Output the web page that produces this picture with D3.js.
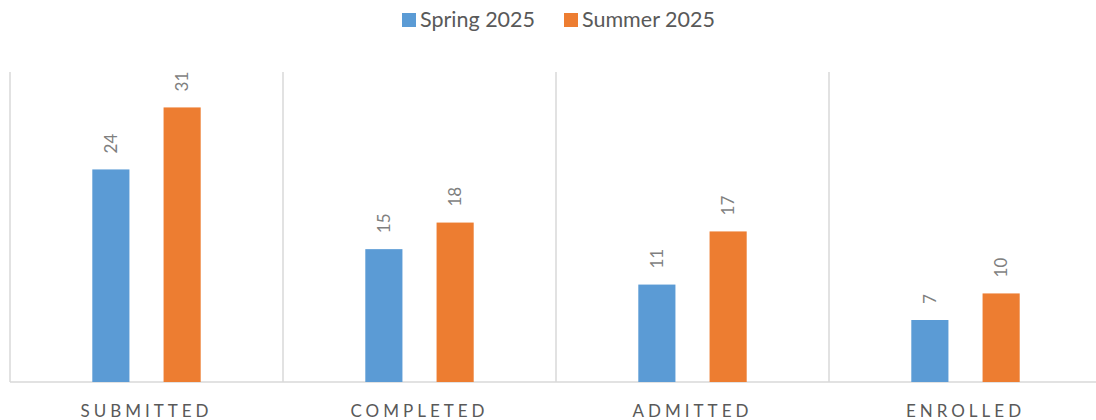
<!DOCTYPE html>
<html>
<head>
<meta charset="utf-8">
<script src="https://cdn.jsdelivr.net/npm/d3@7"></script>
<style>
  body { margin: 0; background: #fff; }
  svg { font-family: Lato, "Open Sans", sans-serif; }
</style>
</head>
<body>
<svg width="1096" height="420"></svg>
<script>
let categories = ["SUBMITTED", "COMPLETED", "ADMITTED", "ENROLLED"];
let seriesNames = ["Spring 2025", "Summer 2025"];
let spring = [24, 15, 11, 7];
let summer = [31, 18, 17, 10];
let colors = ["#5b9bd5", "#ed7d31"];

let svg = d3.select("svg"),
    width = +svg.attr("width"),
    height = +svg.attr("height");

let plotLeft = 10, plotRight = 1102, plotTop = 72, plotBottom = 382;
let rows = categories.map((c, i) => ({ cat: c, values: [spring[i], summer[i]] }));

let x0 = d3.scaleBand().domain(categories).range([plotLeft, plotRight]).padding(0);
let x1 = d3.scaleBand().domain(seriesNames).range([0, x0.bandwidth()])
  .paddingInner(0.479).paddingOuter(1.155);
let y = d3.scaleLinear().domain([0, 35]).range([plotBottom, plotTop]);

// vertical separators between categories
let seps = categories.map(c => x0(c));
svg.append("g").selectAll("line")
  .data(seps)
  .enter().append("line")
  .attr("x1", d => d).attr("x2", d => d)
  .attr("y1", plotTop).attr("y2", plotBottom)
  .attr("stroke", "#d9d9d9").attr("stroke-width", 1.5);

// baseline
svg.append("line")
  .attr("x1", plotLeft).attr("x2", width)
  .attr("y1", plotBottom).attr("y2", plotBottom)
  .attr("stroke", "#d9d9d9").attr("stroke-width", 1.5);

let groups = svg.selectAll(".cat")
  .data(rows)
  .enter().append("g")
  .attr("class", "cat")
  .attr("transform", d => `translate(${x0(d.cat)},0)`);

let bars = groups.selectAll(".bar")
  .data(d => d.values.map((v, i) => ({ name: seriesNames[i], value: v, i })))
  .enter();

bars.append("rect")
  .attr("x", d => x1(d.name))
  .attr("y", d => y(d.value))
  .attr("width", x1.bandwidth())
  .attr("height", d => plotBottom - y(d.value))
  .attr("fill", d => colors[d.i]);

bars.append("text")
  .attr("transform", d => `translate(${x1(d.name) + x1.bandwidth() / 2},${y(d.value) - 16}) rotate(-90)`)
  .attr("dy", "0.35em")
  .attr("text-anchor", "start")
  .attr("fill", "#7f7f7f")
  .style("font-size", "17px")
  .text(d => d.value);

// category labels
svg.append("g").selectAll("text")
  .data(categories)
  .enter().append("text")
  .attr("x", d => x0(d) + x0.bandwidth() / 2)
  .attr("y", plotBottom + 35)
  .attr("text-anchor", "middle")
  .attr("fill", "#595959")
  .style("font-size", "17px")
  .style("letter-spacing", "4px")
  .text(d => d);

// legend
let legend = svg.append("g").attr("transform", "translate(402,0)");
let legendX = [0, 162];
seriesNames.forEach((s, i) => {
  let lg = legend.append("g").attr("transform", `translate(${legendX[i]},0)`);
  lg.append("rect").attr("x", 0).attr("y", 13).attr("width", 14).attr("height", 14).attr("fill", colors[i]);
  lg.append("text").attr("x", 18).attr("y", 27)
    .attr("fill", "#595959").style("font-size", "21.5px").text(s);
});
</script>
</body>
</html>
